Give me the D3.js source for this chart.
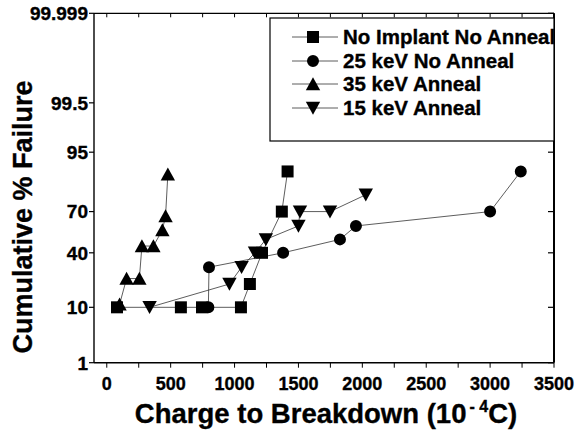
<!DOCTYPE html>
<html><head><meta charset="utf-8">
<script src="https://cdn.jsdelivr.net/npm/d3@7"></script>
<style>
html,body{margin:0;padding:0;background:#fff;}
svg text{font-family:"Liberation Sans",Arial,sans-serif;font-weight:bold;fill:#000;stroke:#000;stroke-width:0.35px;}
</style></head>
<body><svg id="chart" width="581" height="435"></svg>
<script>
// ---- data ----
const seriesNames = ["No Implant No Anneal", "25 keV No Anneal", "35 keV Anneal", "15 keV Anneal"];
const noImplantX = [80, 580, 745, 1050, 1120, 1215, 1370, 1415];
const noImplantY = [10, 10, 10, 10, 20, 40, 70, 90];
const kev25X = [795, 800, 1380, 1825, 1950, 3000, 3240];
const kev25Y = [10, 30, 40, 50, 60, 70, 90];
const kev35X = [100, 155, 255, 275, 365, 435, 460, 478];
const kev35Y = [11, 23, 23, 45, 45, 57, 67, 89];
const kev15X = [335, 960, 1055, 1160, 1245, 1500, 1512, 1747, 2027];
const kev15Y = [10, 20, 30, 40, 50, 60, 70, 70, 80];
const xTicks = [0, 500, 1000, 1500, 2000, 2500, 3000, 3500];
const xMinorTicks = d3.range(0, 3501, 250);
const yTicks = [1, 10, 40, 70, 95, 99.5, 99.999];
const yTickLabels = ["1", "10", "40", "70", "95", "99.5", "99.999"];

// inverse normal CDF (Acklam)
function probit(p) {
  const a = [-3.969683028665376e+01, 2.209460984245205e+02, -2.759285104469687e+02, 1.383577518672690e+02, -3.066479806614716e+01, 2.506628277459239e+00];
  const b = [-5.447609879822406e+01, 1.615858368580409e+02, -1.556989798598866e+02, 6.680131188771972e+01, -1.328068155288572e+01];
  const c = [-7.784894002430293e-03, -3.223964580411365e-01, -2.400758277161838e+00, -2.549732539343734e+00, 4.374664141464968e+00, 2.938163982698783e+00];
  const d = [7.784695709041462e-03, 3.224671290700398e-01, 2.445134137142996e+00, 3.754408661907416e+00];
  const pl = 0.02425, ph = 1 - pl;
  let q, r;
  if (p < pl) { q = Math.sqrt(-2 * Math.log(p)); return (((((c[0]*q+c[1])*q+c[2])*q+c[3])*q+c[4])*q+c[5]) / ((((d[0]*q+d[1])*q+d[2])*q+d[3])*q+1); }
  if (p <= ph) { q = p - 0.5; r = q*q; return (((((a[0]*r+a[1])*r+a[2])*r+a[3])*r+a[4])*r+a[5])*q / (((((b[0]*r+b[1])*r+b[2])*r+b[3])*r+b[4])*r+1); }
  q = Math.sqrt(-2 * Math.log(1 - p)); return -(((((c[0]*q+c[1])*q+c[2])*q+c[3])*q+c[4])*q+c[5]) / ((((d[0]*q+d[1])*q+d[2])*q+d[3])*q+1);
}

const svg = d3.select("#chart");
const L = 94, R = 554, T = 13.3, B = 362.7;
const x = d3.scaleLinear().domain([-100, 3500]).range([L, R]);
const zs = d3.scaleLinear().domain([probit(0.01), probit(0.99999)]).range([B, T]);
const y = v => zs(probit(v / 100));

// frame
const ax = svg.append("g").attr("stroke", "#000").attr("fill", "none");
ax.append("line").attr("x1", L).attr("x2", R).attr("y1", B).attr("y2", B).attr("stroke-width", 1.6);
ax.append("line").attr("x1", L).attr("x2", R).attr("y1", T).attr("y2", T).attr("stroke-width", 1.2);
ax.append("line").attr("x1", L).attr("x2", L).attr("y1", T).attr("y2", B).attr("stroke-width", 1.4);
ax.append("line").attr("x1", R).attr("x2", R).attr("y1", T).attr("y2", B).attr("stroke-width", 2);

// bottom ticks (outward), top ticks (inward)
xMinorTicks.forEach(t => {
  ax.append("line").attr("x1", x(t)).attr("x2", x(t)).attr("y1", B).attr("y2", B + 5).attr("stroke-width", 1);
  ax.append("line").attr("x1", x(t)).attr("x2", x(t)).attr("y1", T).attr("y2", T + 4).attr("stroke-width", 1);
});
// left ticks outward, right ticks inward
yTicks.forEach(t => {
  ax.append("line").attr("x1", L - 5).attr("x2", L).attr("y1", y(t)).attr("y2", y(t)).attr("stroke-width", 1.2);
  ax.append("line").attr("x1", R - 6).attr("x2", R).attr("y1", y(t)).attr("y2", y(t)).attr("stroke-width", 1.2);
});

svg.append("g").selectAll("text").data(xTicks).join("text")
  .attr("x", d => x(d)).attr("y", 390).attr("text-anchor", "middle")
  .attr("font-size", 18).text(d => d);
svg.append("g").selectAll("text").data(yTicks).join("text")
  .attr("x", 88).attr("y", d => y(d)).attr("dy", "0.36em").attr("text-anchor", "end")
  .attr("font-size", 19).text((d, i) => yTickLabels[i]);

// axis titles
const xt = svg.append("text").attr("x", 326).attr("y", 423).attr("text-anchor", "middle").attr("font-size", 27.5);
xt.append("tspan").text("Charge to Breakdown (10");
xt.append("tspan").attr("font-size", 16).attr("dy", -11).attr("dx", 3).text("- 4");
xt.append("tspan").attr("dy", 11).text("C)");
svg.append("text").attr("transform", "translate(22,217) rotate(-90)").attr("text-anchor", "middle")
  .attr("dy", "0.36em").attr("font-size", 27).text("Cumulative % Failure");

// marker shapes
const shapes = {
  square: "M-6,-6H6V6H-6Z",
  circle: d3.symbol(d3.symbolCircle, 113)(),
  up: "M0,-6.8L7.2,6.2H-7.2Z",
  down: "M0,6.8L7.2,-6.2H-7.2Z"
};
const series = [
  {name: seriesNames[0], xs: noImplantX, ys: noImplantY, shape: "square"},
  {name: seriesNames[1], xs: kev25X, ys: kev25Y, shape: "circle"},
  {name: seriesNames[2], xs: kev35X, ys: kev35Y, shape: "up"},
  {name: seriesNames[3], xs: kev15X, ys: kev15Y, shape: "down"}
];
const line = d3.line().x(d => x(d[0])).y(d => y(d[1]));
series.forEach(s => {
  const pts = s.xs.map((v, i) => [v, s.ys[i]]);
  svg.append("path").attr("d", line(pts)).attr("fill", "none").attr("stroke", "#333").attr("stroke-width", 0.8);
});
series.forEach(s => {
  const pts = s.xs.map((v, i) => [v, s.ys[i]]);
  svg.append("g").selectAll("path").data(pts).join("path")
    .attr("transform", d => `translate(${x(d[0])},${y(d[1])})`)
    .attr("d", shapes[s.shape]).attr("fill", "#000");
});

// legend
const lg = svg.append("g");
lg.append("rect").attr("x", 270).attr("y", 18).attr("width", 284).attr("height", 123)
  .attr("fill", "#fff").attr("stroke", "#000").attr("stroke-width", 1.2);
const rowY = [37, 61, 84, 108];
series.forEach((s, i) => {
  lg.append("line").attr("x1", 292).attr("x2", 338).attr("y1", rowY[i]).attr("y2", rowY[i])
    .attr("stroke", "#333").attr("stroke-width", 0.8);
  lg.append("path").attr("transform", `translate(313,${rowY[i]})`).attr("d", shapes[s.shape]).attr("fill", "#000");
  lg.append("text").attr("x", 343).attr("y", rowY[i]).attr("dy", "0.36em").attr("font-size", 20.5).text(s.name);
});
</script></body></html>
